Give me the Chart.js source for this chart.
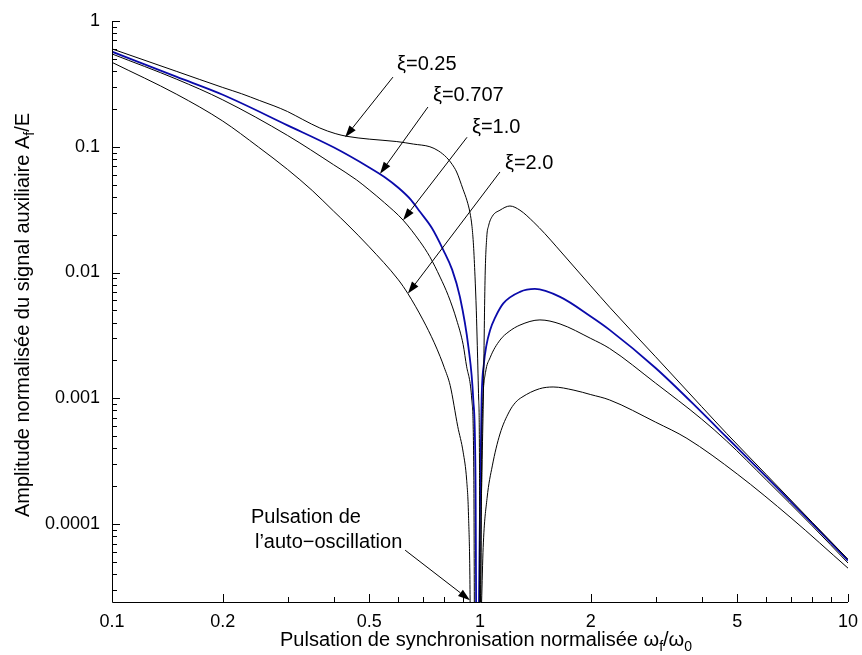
<!DOCTYPE html>
<html>
<head>
<meta charset="utf-8">
<script src="https://cdn.jsdelivr.net/npm/chart.js@4.4.0/dist/chart.umd.min.js"></script>
<style>
  html, body { margin: 0; padding: 0; background: #fff; }
</style>
</head>
<body>
<canvas id="chart" width="862" height="655"></canvas>
<script>
// tick labels
const xTickValues = [0.1, 0.2, 0.5, 1, 2, 5, 10];
const xTickLabels = ['0.1', '0.2', '0.5', '1', '2', '5', '10'];
const yTickValues = [1, 0.1, 0.01, 0.001, 0.0001];
const yTickLabels = ['1', '0.1', '0.01', '0.001', '0.0001'];
const yMin = 2.4e-5;

// xi = 0.25
const xi025X = [0.1, 0.15, 0.2, 0.225, 0.252, 0.2755, 0.3, 0.33, 0.367, 0.404, 0.435, 0.5, 0.594, 0.66, 0.731, 0.77, 0.812, 0.84, 0.864, 0.899, 0.922, 0.939, 0.9512, 0.9601, 0.9692, 0.9771, 0.9832, 0.9919, 0.9969, 1.0, 1.006, 1.0126, 1.021, 1.032, 1.043, 1.055, 1.08, 1.133, 1.206, 1.284, 1.4, 1.5, 1.615, 2, 2.25, 3, 4, 4.68, 6, 8, 10];
const xi025Y = [0.60, 0.397, 0.296, 0.264, 0.233, 0.2115, 0.1905, 0.1646, 0.141, 0.1274, 0.121, 0.115, 0.110, 0.105, 0.100, 0.093, 0.082, 0.0725, 0.063, 0.046, 0.0372, 0.0300, 0.0232, 0.0165, 0.00935, 0.00502, 0.00264, 0.00097, 0.000268, 1e-7, 0.000052, 0.000268, 0.00097, 0.0087, 0.019, 0.0235, 0.028, 0.0313, 0.0338, 0.0313, 0.0251, 0.0204, 0.016, 0.00783, 0.0053, 0.00214, 0.00086, 0.000525, 0.000247, 0.000103, 0.0000525];

// xi = 0.707
const xi0707X = [0.1, 0.15, 0.2, 0.3, 0.4, 0.5, 0.55, 0.6, 0.65, 0.687, 0.74, 0.795, 0.84, 0.882, 0.93, 0.959, 0.972, 0.985, 0.9937, 1.003, 1.01, 1.025, 1.04, 1.065, 1.1, 1.157, 1.284, 1.41, 1.65, 2, 2.25, 3, 4, 4.68, 6, 8, 10];
const xi0707Y = [0.57, 0.359, 0.259, 0.148, 0.099, 0.0685, 0.0575, 0.0472, 0.0377, 0.0304, 0.0226, 0.0151, 0.01054, 0.0064, 0.00256, 0.00097, 0.00025, 1e-7, 0.000024, 0.00025, 0.00097, 0.0019, 0.0026, 0.00348, 0.0044, 0.00568, 0.00702, 0.0074, 0.0064, 0.00447, 0.0035, 0.00174, 0.000776, 0.00049, 0.000237, 0.000101, 0.0000513];

// xi = 1.0
const xi10X = [0.1, 0.15, 0.2, 0.3, 0.4, 0.462, 0.5, 0.55, 0.618, 0.687, 0.73, 0.779, 0.82, 0.864, 0.9, 0.92, 0.95, 0.962, 0.972, 1.003, 1.012, 1.018, 1.035, 1.065, 1.133, 1.2, 1.284, 1.455, 1.65, 2, 2.25, 3, 4, 4.68, 6, 8, 10];
const xi10Y = [0.547, 0.344, 0.236, 0.123, 0.072, 0.0545, 0.0454, 0.0359, 0.0261, 0.0176, 0.0134, 0.0092, 0.00655, 0.0042, 0.00267, 0.00178, 0.00097, 0.00025, 1e-7, 0.000024, 0.0005, 0.00097, 0.0016, 0.0021, 0.0029, 0.0034, 0.00382, 0.0042, 0.0039, 0.00299, 0.00249, 0.00132, 0.000684, 0.000457, 0.000224, 0.0000966, 0.000049];

// xi = 2.0
const xi20X = [0.1, 0.15, 0.2, 0.25, 0.3, 0.35, 0.4, 0.435, 0.5, 0.6, 0.637, 0.7, 0.75, 0.779, 0.8, 0.83, 0.87, 0.9, 0.92, 0.9306, 0.94, 0.95, 1.01, 1.02, 1.045, 1.08, 1.133, 1.2, 1.25, 1.3, 1.45, 1.58, 1.8, 2, 2.25, 3, 3.65, 5, 7, 10];
const xi20Y = [0.469, 0.261, 0.160, 0.0995, 0.066, 0.0449, 0.0308, 0.0243, 0.016, 0.00875, 0.00679, 0.0042, 0.00279, 0.00215, 0.00175, 0.00126, 0.000597, 0.000373, 0.000223, 0.0001175, 0.0000248, 1e-7, 0.000024, 0.000065, 0.00016, 0.00029, 0.00052, 0.00078, 0.00093, 0.00102, 0.00119, 0.00123, 0.00116, 0.00107, 0.00097, 0.000646, 0.00048, 0.00025, 0.000112, 0.0000446];

// annotation anchors (data coordinates)
const curveLabels = [
  { text: 'ξ=0.25', at: [0.595, 0.447] },
  { text: 'ξ=0.707', at: [0.745, 0.258] },
  { text: 'ξ=1.0', at: [0.951, 0.1435] },
  { text: 'ξ=2.0', at: [1.169, 0.0742] }
];
const arrows = [
  { from: [0.580, 0.358], to: [0.430, 0.119] },
  { from: [0.722, 0.207], to: [0.535, 0.061] },
  { from: [0.922, 0.119], to: [0.618, 0.0261] },
  { from: [1.133, 0.063], to: [0.637, 0.0068] },
  { from: [0.626, 6.2e-5], to: [0.939, 2.48e-5] }
];
const noteLines = [
  { text: 'Pulsation de', at: [0.2385, 1.13e-4] },
  { text: 'l\u2019auto\u2212oscillation', at: [0.2446, 7.2e-5] }
];

const FONT = '"Liberation Sans", Arial, Helvetica, sans-serif';

function pts(xs, ys) {
  return xs.map((x, i) => ({ x: x, y: ys[i] }));
}

function drawArrow(ctx, x1, y1, x2, y2) {
  const ang = Math.atan2(y2 - y1, x2 - x1);
  const len = 12, half = 4;
  const bx = x2 - len * Math.cos(ang), by = y2 - len * Math.sin(ang);
  ctx.beginPath();
  ctx.moveTo(x1, y1);
  ctx.lineTo(bx, by);
  ctx.stroke();
  ctx.beginPath();
  ctx.moveTo(x2, y2);
  ctx.lineTo(bx + half * Math.sin(ang), by - half * Math.cos(ang));
  ctx.lineTo(bx - half * Math.sin(ang), by + half * Math.cos(ang));
  ctx.closePath();
  ctx.fill();
}

// text with subscript parts, centred on x
function drawRich(ctx, parts, x, y, size) {
  const subSize = Math.round(size * 0.72);
  let total = 0;
  parts.forEach(p => {
    ctx.font = (p.sub ? subSize : size) + 'px ' + FONT;
    total += ctx.measureText(p.t).width;
  });
  let cx = x - total / 2;
  parts.forEach(p => {
    ctx.font = (p.sub ? subSize : size) + 'px ' + FONT;
    ctx.fillText(p.t, cx, p.sub ? y + 5 : y);
    cx += ctx.measureText(p.t).width;
  });
}

const axesPlugin = {
  id: 'axesPlugin',
  afterDatasetsDraw(chart) {
    const { ctx, chartArea: a, scales: { x, y } } = chart;
    ctx.save();
    ctx.strokeStyle = '#000';
    ctx.fillStyle = '#000';
    ctx.lineWidth = 1;

    // axis lines
    ctx.beginPath();
    ctx.moveTo(a.left + 0.5, a.top);
    ctx.lineTo(a.left + 0.5, a.bottom + 0.5);
    ctx.lineTo(a.right, a.bottom + 0.5);
    ctx.stroke();

    // ticks pointing inwards
    ctx.beginPath();
    for (let d = 0.1; d < 10; d *= 10) {
      for (let m = 1; m <= 10; m++) {
        const v = +(d * m).toPrecision(3);
        if (v < 0.1 || v > 10) continue;
        const major = xTickValues.some(t => Math.abs(t - v) < 1e-9);
        const px = Math.round(x.getPixelForValue(v)) + 0.5;
        ctx.moveTo(px, a.bottom);
        ctx.lineTo(px, a.bottom - (major ? 8 : 5));
      }
    }
    for (let d = 1e-5; d <= 1; d *= 10) {
      for (let m = 1; m <= 9; m++) {
        const v = +(d * m).toPrecision(3);
        if (v < yMin || v > 1) continue;
        const py = Math.round(y.getPixelForValue(v)) + 0.5;
        ctx.moveTo(a.left, py);
        ctx.lineTo(a.left + (m === 1 ? 8 : 5), py);
      }
    }
    ctx.stroke();

    // curve labels and arrows
    arrows.forEach(ar => drawArrow(ctx,
      x.getPixelForValue(ar.from[0]), y.getPixelForValue(ar.from[1]),
      x.getPixelForValue(ar.to[0]), y.getPixelForValue(ar.to[1])));
    ctx.font = '20px ' + FONT;
    ctx.textAlign = 'left';
    ctx.textBaseline = 'middle';
    curveLabels.concat(noteLines).forEach(l =>
      ctx.fillText(l.text, x.getPixelForValue(l.at[0]), y.getPixelForValue(l.at[1])));

    // axis titles
    ctx.textBaseline = 'alphabetic';
    drawRich(ctx, [
      { t: 'Pulsation de synchronisation normalisée ω' }, { t: 'f', sub: true },
      { t: '/ω' }, { t: '0', sub: true }
    ], 486, 646, 20);
    ctx.save();
    ctx.translate(29, 315);
    ctx.rotate(-Math.PI / 2);
    drawRich(ctx, [
      { t: 'Amplitude normalisée du signal auxiliaire A' }, { t: 'f', sub: true }, { t: '/E' }
    ], 0, 0, 20);
    ctx.restore();
    ctx.restore();
  }
};

function lineSet(xs, ys, color, width) {
  return {
    data: pts(xs, ys),
    borderColor: color,
    borderWidth: width,
    pointRadius: 0,
    fill: false,
    cubicInterpolationMode: 'monotone'
  };
}

new Chart(document.getElementById('chart'), {
  type: 'line',
  data: {
    datasets: [
      lineSet(xi025X, xi025Y, '#000000', 1),
      lineSet(xi10X, xi10Y, '#000000', 1),
      lineSet(xi20X, xi20Y, '#000000', 1),
      lineSet(xi0707X, xi0707Y, '#0a0aaa', 1.8)
    ]
  },
  options: {
    responsive: false,
    devicePixelRatio: 1,
    animation: false,
    layout: { padding: { top: 21, right: 14, left: 0, bottom: 0 } },
    plugins: { legend: { display: false }, tooltip: { enabled: false } },
    scales: {
      x: {
        type: 'logarithmic',
        min: 0.1,
        max: 10,
        grid: { display: false },
        border: { display: false },
        afterBuildTicks: s => { s.ticks = xTickValues.map(v => ({ value: v })); },
        afterFit: s => { s.height = 53; },
        ticks: {
          autoSkip: false,
          maxRotation: 0,
          padding: 1,
          color: '#000',
          font: { family: FONT, size: 18 },
          callback: (v, i) => xTickLabels[i]
        }
      },
      y: {
        type: 'logarithmic',
        min: yMin,
        max: 1,
        grid: { display: false },
        border: { display: false },
        afterBuildTicks: s => { s.ticks = yTickValues.map(v => ({ value: v })); },
        afterFit: s => { s.width = 112; },
        ticks: {
          autoSkip: false,
          padding: 4,
          color: '#000',
          font: { family: FONT, size: 18 },
          callback: (v, i) => yTickLabels[i]
        }
      }
    }
  },
  plugins: [axesPlugin]
});
</script>
</body>
</html>
